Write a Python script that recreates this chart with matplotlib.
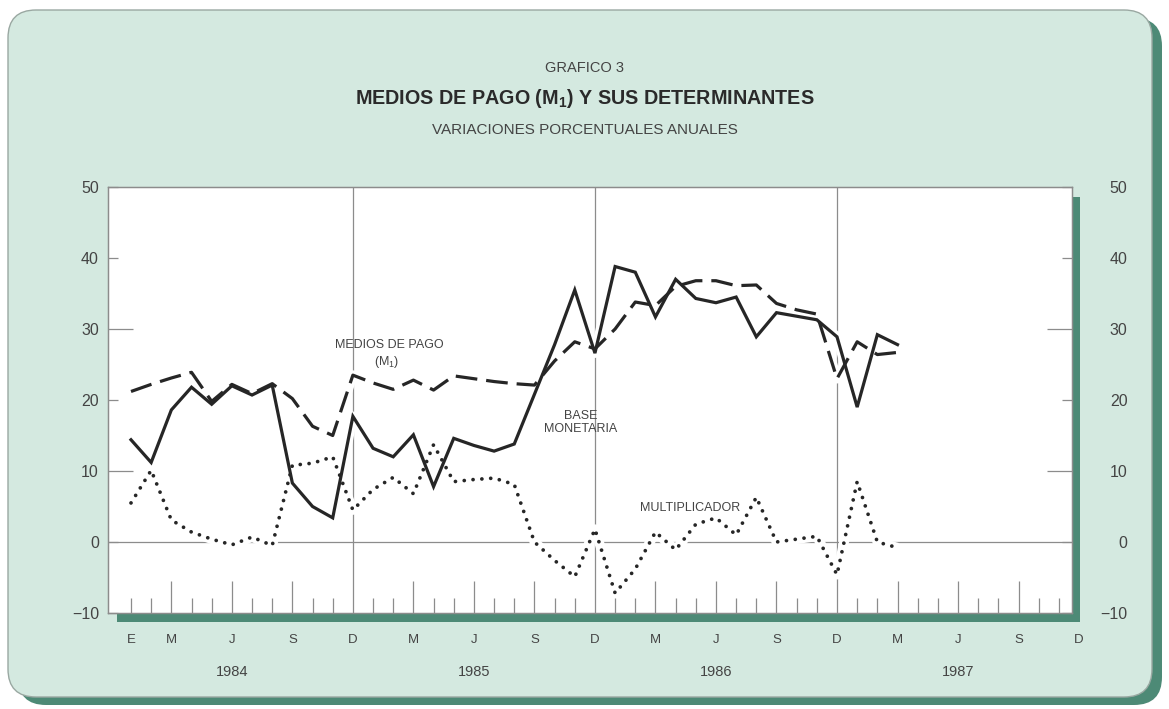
import matplotlib
matplotlib.use("Agg")
import matplotlib.pyplot as plt
from matplotlib.patches import FancyBboxPatch, Rectangle
from matplotlib.transforms import IdentityTransform, blended_transform_factory
import numpy as np

plt.rcParams['font.family'] = ['Liberation Sans', 'DejaVu Sans']
plt.rcParams['mathtext.fontset'] = 'custom'
plt.rcParams['mathtext.rm'] = 'Liberation Sans'
plt.rcParams['mathtext.bf'] = 'Liberation Sans:bold'

# meses desde enero 1984 (0) hasta marzo 1987 (38)
meses = np.arange(39)

base_monetaria = [14.4, 11.2, 18.6, 21.8, 19.4, 22.0, 20.7, 22.1, 8.3, 5.0,
                  3.4, 17.7, 13.2, 12.0, 15.1, 7.8, 14.6, 13.6, 12.8, 13.8,
                  20.8, 27.8, 35.5, 26.6, 38.8, 38.0, 31.7, 37.0, 34.3, 33.7,
                  34.5, 28.9, 32.3, 31.8, 31.3, 28.9, 19.0, 29.2, 27.8]

medios_pago = [21.2, 22.2, 23.1, 23.9, 19.8, 22.2, 20.9, 22.3, 20.2, 16.3,
               15.0, 23.5, 22.4, 21.5, 22.8, 21.4, 23.4, 23.0, 22.6, 22.3,
               22.1, 25.5, 28.2, 27.2, 30.0, 33.8, 33.3, 36.0, 36.8, 36.8,
               36.1, 36.2, 33.6, 32.7, 32.1, 23.0, 28.2, 26.4, 26.7]

multiplicador = [5.5, 10.1, 3.1, 1.4, 0.4, -0.4, 0.7, -0.5, 10.8, 11.1,
                 12.0, 4.5, 7.4, 9.1, 6.8, 13.7, 8.5, 8.8, 9.0, 8.1,
                 0.0, -2.6, -4.9, 1.8, -7.2, -3.8, 1.4, -1.1, 2.5, 3.4,
                 1.0, 6.3, 0.0, 0.4, 0.8, -4.6, 8.5, 0.0, -0.8]

anios = ['1984', '1985', '1986', '1987']
letras_mes = ['M', 'J', 'S', 'D']
pos_letras = [2, 5, 8, 11]

y_ticks_largos = [10, 30]
y_ticks_cortos = [-10, 0, 20, 40, 50]

tinta = '#262626'
gris = '#8c8c8c'
texto = '#444444'
menta = '#d4e9e0'
verde = '#4d8a76'

W, H = 1169, 709
fig = plt.figure(figsize=(W / 100, H / 100), dpi=100)
fig.patch.set_facecolor('white')

# tarjeta de fondo con sombra
sombra = FancyBboxPatch((18, 4), 1144, 687, boxstyle='round,pad=0,rounding_size=28',
                        transform=IdentityTransform(), facecolor=verde,
                        edgecolor='none', zorder=-3)
tarjeta = FancyBboxPatch((8, 12), 1144, 687, boxstyle='round,pad=0,rounding_size=28',
                         transform=IdentityTransform(), facecolor=menta,
                         edgecolor='#9aa8a2', linewidth=1.0, zorder=-2)
sombra_graf = Rectangle((117, H - 622), 1080 - 117, 622 - 197,
                        transform=IdentityTransform(), facecolor=verde,
                        edgecolor='none', zorder=-1)
for p in (sombra, tarjeta, sombra_graf):
    fig.add_artist(p)

ax = fig.add_axes([108 / W, 1 - 613 / H, (1072 - 108) / W, (613 - 187) / H])
ax.set_facecolor('white')
ax.set_xlim(-1.14, 46.65)
ax.set_ylim(-10, 50)

# lineas de referencia
ax.axhline(0, color=gris, lw=0.9, zorder=1)
for d in (11, 23, 35):
    ax.axvline(d, color=gris, lw=0.9, zorder=1)

series = [
    (multiplicador, dict(lw=2.7, ls=(0, (0.01, 2.35)), dash_capstyle='round')),
    (medios_pago, dict(lw=2.3, ls=(0, (6.8, 2.8)), dash_capstyle='butt')),
    (base_monetaria, dict(lw=2.3, ls='-', solid_joinstyle='miter')),
]
for valores, estilo in series:
    ax.plot(meses, valores, color='white', lw=7, solid_capstyle='butt', zorder=2)
    ax.plot(meses, valores, color=tinta, zorder=3, **estilo)

# etiquetas de las series
ax.text(12.8, 27.7, 'MEDIOS DE PAGO', ha='center', va='center', fontsize=9, color=texto)
ax.text(12.65, 25.4, '(M$_1$)', ha='center', va='center', fontsize=9, color=texto)
ax.text(22.3, 16.8, 'BASE\nMONETARIA', ha='center', va='center', fontsize=9,
        color=texto, linespacing=1.05)
ax.text(27.7, 4.8, 'MULTIPLICADOR', ha='center', va='center', fontsize=9, color=texto)

# marcas del eje x
largos = [m + 12 * k for k in range(4) for m in (2, 5, 8)]
cortos = [m for m in range(47) if m not in largos and m % 12 != 11]
ax.set_xticks(largos)
ax.set_xticks(cortos, minor=True)
ax.tick_params(axis='x', which='major', direction='in', length=23, width=0.9,
               color=gris, labelbottom=False)
ax.tick_params(axis='x', which='minor', direction='in', length=11, width=0.9,
               color=gris, labelbottom=False)

trans = blended_transform_factory(ax.transData, ax.transAxes)
ax.text(0, -0.064, 'E', transform=trans, ha='center', va='center',
        fontsize=9.5, color=texto, clip_on=False)
for k, anio in enumerate(anios):
    for letra, p in zip(letras_mes, pos_letras):
        ax.text(p + 12 * k, -0.064, letra, transform=trans, ha='center', va='center',
                fontsize=9.5, color=texto, clip_on=False)
    ax.text(5 + 12 * k, -0.139, anio, transform=trans, ha='center', va='center',
            fontsize=10.5, color=texto, clip_on=False)


def fmt(v):
    return str(v).replace('-', '\u2212')


def eje_y(a, pad):
    a.set_yticks(y_ticks_largos, labels=[fmt(v) for v in y_ticks_largos])
    a.set_yticks(y_ticks_cortos, labels=[fmt(v) for v in y_ticks_cortos], minor=True)
    a.tick_params(axis='y', which='major', direction='in', length=18, width=0.9,
                  color=gris, pad=pad, labelsize=11.5, labelcolor=texto)
    a.tick_params(axis='y', which='minor', direction='in', length=7.5, width=0.9,
                  color=gris, pad=pad, labelsize=11.5, labelcolor=texto)


eje_y(ax, 6.5)
ax2 = ax.twinx()
ax2.set_ylim(-10, 50)
eje_y(ax2, 40)
for lab in ax2.get_yticklabels(which='both'):
    lab.set_horizontalalignment('right')

for a in (ax, ax2):
    for s in a.spines.values():
        s.set_color(gris)
        s.set_linewidth(0.9)

# titulos
fig.text(0.5, 1 - 68 / H, 'GRAFICO 3', ha='center', va='center', fontsize=10.5, color=texto)
fig.text(0.5, 1 - 98 / H, 'MEDIOS DE PAGO (M$_\\mathbf{1}$) Y SUS DETERMINANTES',
         ha='center', va='center', fontsize=14.2, fontweight='bold', color='#2a2a2a')
fig.text(0.5, 1 - 130 / H, 'VARIACIONES PORCENTUALES ANUALES', ha='center', va='center',
         fontsize=11, color=texto)

fig.savefig('out.png', dpi=100, facecolor=fig.get_facecolor())
